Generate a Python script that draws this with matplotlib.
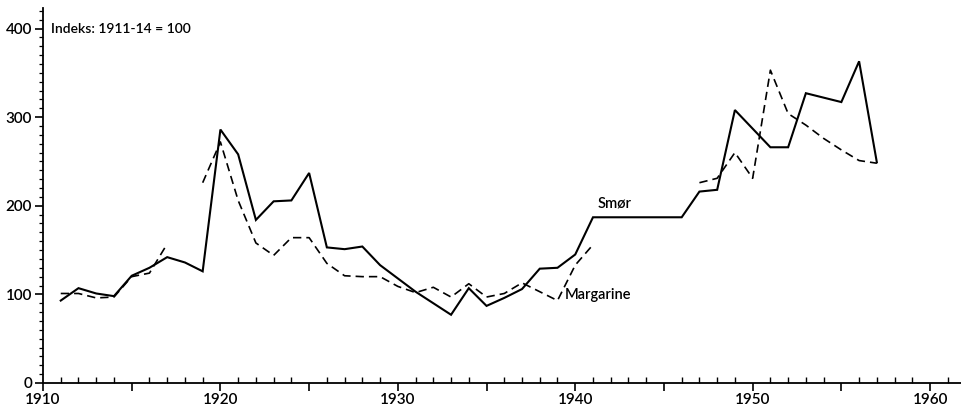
import numpy as np
import matplotlib
matplotlib.use("Agg")
import matplotlib.pyplot as plt
from matplotlib.ticker import MultipleLocator, FuncFormatter

# -------------------------------
# Data (indeks 1911-14 = 100)
# -------------------------------
aar_smor = list(range(1911, 1958))
smor = [93, 107, 101, 98, 121, 130, 142, 136, 126, 286,
        258, 184, 205, 206, 237, 153, 151, 154, 133, 118,
        103, 90, 77, 107, 87, 96, 106, 129, 130, 145,
        187, 187, 187, 187, 187, 187, 216, 218, 308, 287,
        266, 266, 327, 322, 317, 363, 249]

# margarin i tre biter (hull i serien)
aar_marg_1 = list(range(1911, 1918))
marg_1 = [101, 101, 96, 97, 120, 124, 157]
aar_marg_2 = list(range(1919, 1942))
marg_2 = [226, 272, 206, 158, 144, 164, 164, 135, 121, 120,
          120, 109, 102, 108, 97, 112, 97, 101, 113, 103,
          93, 133, 156]
aar_marg_3 = list(range(1947, 1958))
marg_3 = [226, 231, 260, 231, 353, 304, 291, 276, 263, 251, 248]

plt.rcParams['font.family'] = ['Lato', 'DejaVu Sans']
plt.rcParams['font.weight'] = 'semibold'

fig = plt.figure(figsize=(9.62, 4.07), dpi=100)
ax = fig.add_axes([0.0447, 0.059, 0.9553, 0.921])

ax.plot(aar_smor, smor, color='black', lw=1.5, solid_joinstyle='miter')
for x, y in [(aar_marg_1, marg_1), (aar_marg_2, marg_2), (aar_marg_3, marg_3)]:
    ax.plot(x, y, color='black', lw=1.2, linestyle=(0, (5, 3)))

ax.text(1941.25, 195, "Smør", fontsize=10.5, ha='left', va='bottom')
ax.text(1939.4, 99, "Margarine", fontsize=10.5, ha='left', va='center')
ax.text(1910.45, 400, "Indeks: 1911-14 = 100", fontsize=10, ha='left', va='center')

ax.set_xlim(1910, 1961.8)
ax.set_ylim(0, 423)

for s in ['top', 'right']:
    ax.spines[s].set_visible(False)
for s in ['left', 'bottom']:
    ax.spines[s].set_linewidth(1.3)

ax.xaxis.set_major_locator(MultipleLocator(5))
ax.xaxis.set_minor_locator(MultipleLocator(1))
ax.xaxis.set_major_formatter(FuncFormatter(lambda v, p: f"{int(v)}" if int(round(v)) % 10 == 0 else ""))
ax.yaxis.set_major_locator(MultipleLocator(100))
ax.yaxis.set_minor_locator(MultipleLocator(10))

ax.tick_params(axis='x', which='major', direction='out', length=6, width=1.2, labelsize=11, pad=1)
ax.tick_params(axis='x', which='minor', direction='in', length=4, width=1)
ax.tick_params(axis='y', which='major', direction='out', length=6, width=1.2, labelsize=11, pad=2)
ax.tick_params(axis='y', which='minor', direction='out', length=3, width=0.9)

fig.savefig("out.png", dpi=100)
